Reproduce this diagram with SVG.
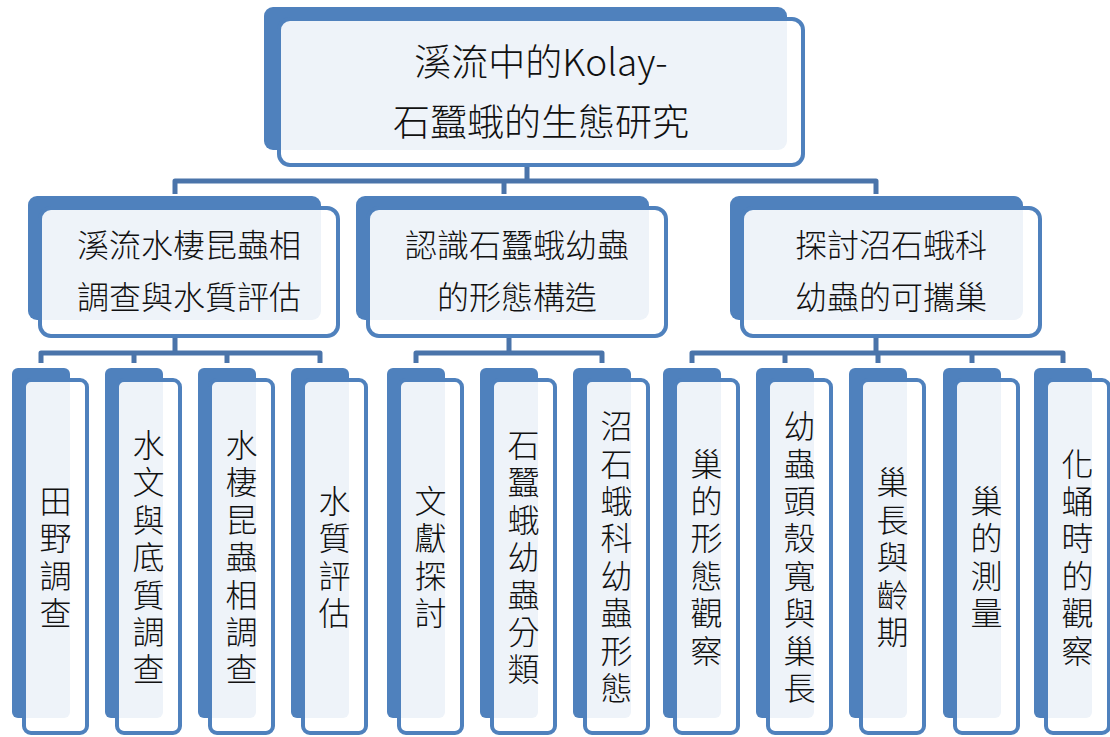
<svg xmlns="http://www.w3.org/2000/svg" width="1110" height="737" viewBox="0 0 1110 737">
<style>
.back{fill:#4F81BD;}
.front{fill:#FFFFFF;fill-opacity:0.9;stroke:#4F81BD;stroke-width:4;}
.conn{fill:none;stroke:#4A74AA;stroke-width:5;stroke-linejoin:round;stroke-linecap:butt;}
text{font-family:"Noto Sans CJK TC","Noto Sans CJK SC",sans-serif;font-weight:300;fill:#111;text-anchor:middle;}
.t0{font-size:37px;}
.t1{font-size:32px;}
.v{font-size:32px;writing-mode:vertical-rl;text-orientation:upright;letter-spacing:5.4px;}
</style>
<rect width="1110" height="737" fill="#FFFFFF"/>
<g id="connectors">
<path class="conn" d="M527 167V181M175 194V181H876V194M504 181V194"/>
<path class="conn" d="M175 338V353M41 363V353H320V363M134 353V363M227 353V363"/>
<path class="conn" d="M509 338V353M416 363V353H602V363"/>
<path class="conn" d="M876 338V353M692 363V353H1063V363M785 353V363M878 353V363M972 353V363"/>
</g>
<g id="root">
<rect class="back" x="264" y="7" width="523" height="143" rx="9"/>
<rect class="front" x="279" y="19" width="524" height="146" rx="11"/>
<text class="t0" x="541" y="76">溪流中的Kolay-</text>
<text class="t0" x="541" y="136">石蠶蛾的生態研究</text>
</g>
<g id="nodeA">
<rect class="back" x="28" y="196" width="293" height="124" rx="9"/>
<rect class="front" x="40" y="208" width="298" height="128" rx="11"/>
<text class="t1" x="189" y="257">溪流水棲昆蟲相</text>
<text class="t1" x="189" y="309">調查與水質評估</text>
</g>
<g id="nodeB">
<rect class="back" x="356" y="196" width="293" height="124" rx="9"/>
<rect class="front" x="368" y="208" width="298" height="128" rx="11"/>
<text class="t1" x="517" y="257">認識石蠶蛾幼蟲</text>
<text class="t1" x="517" y="309">的形態構造</text>
</g>
<g id="nodeC">
<rect class="back" x="730" y="196" width="293" height="124" rx="9"/>
<rect class="front" x="742" y="208" width="298" height="128" rx="11"/>
<text class="t1" x="891" y="257">探討沼石蛾科</text>
<text class="t1" x="891" y="309">幼蟲的可攜巢</text>
</g>
<g id="leaf1">
<rect class="back" x="12" y="368" width="58" height="350" rx="6"/>
<rect class="front" x="24" y="380" width="63" height="353" rx="7"/>
<text class="v" x="55.5" y="559.7">田野調查</text>
</g>
<g id="leaf2">
<rect class="back" x="105" y="368" width="58" height="350" rx="6"/>
<rect class="front" x="117" y="380" width="63" height="353" rx="7"/>
<text class="v" x="148.5" y="559.7">水文與底質調查</text>
</g>
<g id="leaf3">
<rect class="back" x="198" y="368" width="58" height="350" rx="6"/>
<rect class="front" x="210" y="380" width="63" height="353" rx="7"/>
<text class="v" x="241.5" y="559.7">水棲昆蟲相調查</text>
</g>
<g id="leaf4">
<rect class="back" x="291" y="368" width="58" height="350" rx="6"/>
<rect class="front" x="303" y="380" width="63" height="353" rx="7"/>
<text class="v" x="334.5" y="559.7">水質評估</text>
</g>
<g id="leaf5">
<rect class="back" x="387" y="368" width="58" height="350" rx="6"/>
<rect class="front" x="399" y="380" width="63" height="353" rx="7"/>
<text class="v" x="430.5" y="559.7">文獻探討</text>
</g>
<g id="leaf6">
<rect class="back" x="480" y="368" width="58" height="350" rx="6"/>
<rect class="front" x="492" y="380" width="63" height="353" rx="7"/>
<text class="v" x="523.5" y="559.7">石蠶蛾幼蟲分類</text>
</g>
<g id="leaf7">
<rect class="back" x="573" y="368" width="58" height="350" rx="6"/>
<rect class="front" x="585" y="380" width="63" height="353" rx="7"/>
<text class="v" x="616.5" y="559.7">沼石蛾科幼蟲形態</text>
</g>
<g id="leaf8">
<rect class="back" x="663" y="368" width="58" height="350" rx="6"/>
<rect class="front" x="675" y="380" width="63" height="353" rx="7"/>
<text class="v" x="706.5" y="559.7">巢的形態觀察</text>
</g>
<g id="leaf9">
<rect class="back" x="756" y="368" width="58" height="350" rx="6"/>
<rect class="front" x="768" y="380" width="63" height="353" rx="7"/>
<text class="v" x="799.5" y="559.7">幼蟲頭殼寬與巢長</text>
</g>
<g id="leaf10">
<rect class="back" x="849" y="368" width="58" height="350" rx="6"/>
<rect class="front" x="861" y="380" width="63" height="353" rx="7"/>
<text class="v" x="892.5" y="559.7">巢長與齡期</text>
</g>
<g id="leaf11">
<rect class="back" x="943" y="368" width="58" height="350" rx="6"/>
<rect class="front" x="955" y="380" width="63" height="353" rx="7"/>
<text class="v" x="986.5" y="559.7">巢的測量</text>
</g>
<g id="leaf12">
<rect class="back" x="1034" y="368" width="58" height="350" rx="6"/>
<rect class="front" x="1046" y="380" width="63" height="353" rx="7"/>
<text class="v" x="1077.5" y="559.7">化蛹時的觀察</text>
</g>
</svg>
